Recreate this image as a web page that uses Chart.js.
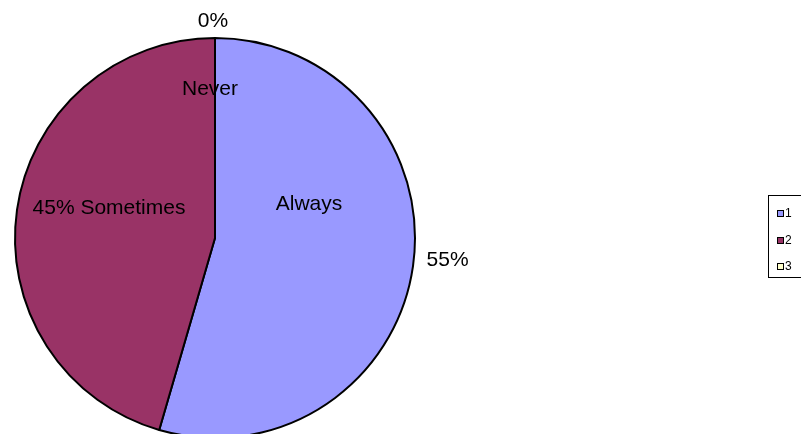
<!DOCTYPE html>
<html>
<head>
<meta charset="utf-8">
<script src="https://cdn.jsdelivr.net/npm/chart.js@4"></script>
<style>
  html, body { margin: 0; padding: 0; background: #fff; overflow: hidden; }
  #kor { display: block; }
</style>
</head>
<body>
<canvas id="kor" width="801" height="480"></canvas>
<script>
const kategoriak = ['Always', 'Sometimes', 'Never'];
const ertekek = [54.5, 45.5, 0];
const szazalekCimkek = ['55%', '45%', '0%'];
const jelmagyarazat = ['1', '2', '3'];
const szinek = ['#9999FF', '#993366', '#FFFFCC'];

// címkék helye a középponthoz képest, a sugár arányában
const cimkeHelyek = [
    { nev: [0.47, -0.17], szazalek: [1.163, 0.11] },
    { egyben: [-0.53, -0.15] },
    { nev: [-0.025, -0.745], szazalek: [-0.01, -1.085] }
];

const cimkek = {
    id: 'cimkek',
    afterDatasetsDraw(chart) {
        const ctx = chart.ctx;
        const ivek = chart.getDatasetMeta(0).data;
        const kx = ivek[0].x, ky = ivek[0].y, r = ivek[0].outerRadius;
        ctx.save();
        ctx.fillStyle = '#000';
        ctx.font = '21px "Liberation Sans", Arial, sans-serif';
        ctx.textAlign = 'center';
        ctx.textBaseline = 'middle';
        cimkeHelyek.forEach((h, i) => {
            const sz = szazalekCimkek[i];
            if (h.egyben) {
                ctx.fillText(sz + ' ' + kategoriak[i], kx + h.egyben[0] * r, ky + h.egyben[1] * r);
            } else {
                ctx.fillText(kategoriak[i], kx + h.nev[0] * r, ky + h.nev[1] * r);
                ctx.fillText(sz, kx + h.szazalek[0] * r, ky + h.szazalek[1] * r);
            }
        });

        // jelmagyarázat
        ctx.strokeStyle = '#000';
        ctx.lineWidth = 1;
        ctx.strokeRect(768.5, 195.5, 40, 82);
        ctx.font = '12px "Liberation Sans", Arial, sans-serif';
        ctx.textAlign = 'left';
        jelmagyarazat.forEach((t, i) => {
            const y = Math.round(213 + i * 26.5);
            ctx.fillStyle = '#000';
            ctx.fillRect(777, y - 3, 7, 7);
            ctx.fillStyle = szinek[i];
            ctx.fillRect(778, y - 2, 5, 5);
            ctx.fillStyle = '#000';
            ctx.fillText(t, 785, y + 1);
        });
        ctx.restore();
    }
};

new Chart(document.getElementById('kor'), {
    type: 'pie',
    data: {
        labels: kategoriak,
        datasets: [{
            data: ertekek,
            backgroundColor: szinek,
            borderColor: '#000',
            borderWidth: 2,
            borderAlign: 'center'
        }]
    },
    options: {
        responsive: false,
        animation: false,
        events: [],
        radius: 200,
        layout: { padding: { left: 15, right: 386, top: 38, bottom: 42 } },
        plugins: {
            legend: { display: false },
            tooltip: { enabled: false }
        }
    },
    plugins: [cimkek]
});
</script>
</body>
</html>
